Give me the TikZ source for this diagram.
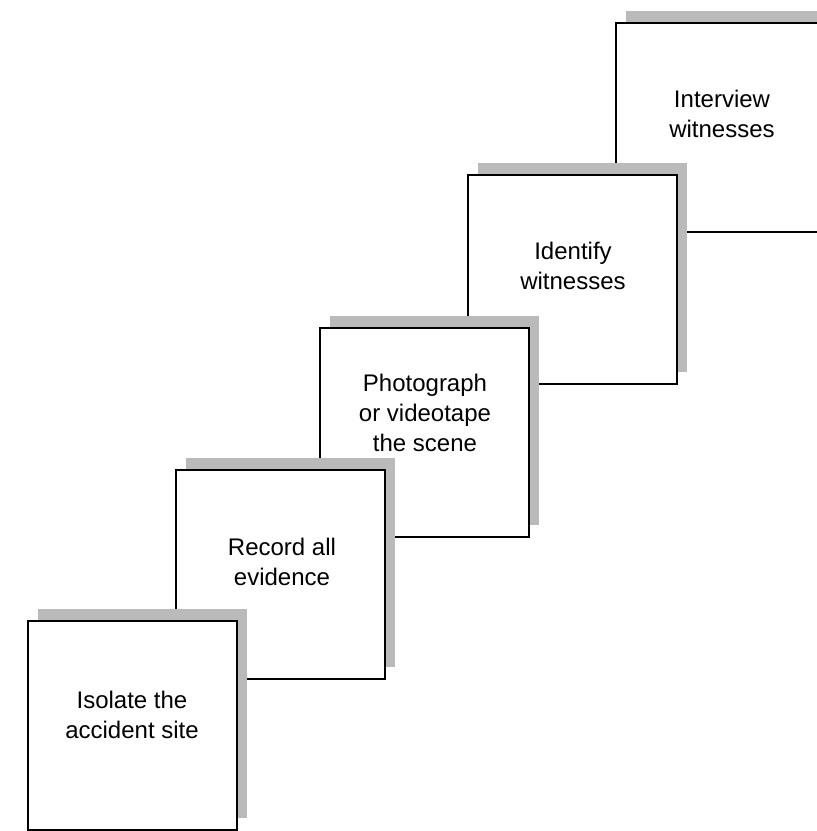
\documentclass[tikz,border=0pt]{standalone}
\usepackage{fontspec}
\setmainfont{Liberation Sans}
\tikzset{
  shadowbox/.style={fill=black!27,minimum size=104.5pt,inner sep=0pt,anchor=north west},
  stepbox/.style={draw,fill=white,line width=1pt,minimum size=104.5pt,inner sep=0pt,anchor=north west},
  steptext/.style={align=center,font=\fontsize{12}{15}\selectfont}
}
\begin{document}
\begin{tikzpicture}[x=0.5pt,y=-0.5pt]
\useasboundingbox (0,0) rectangle (817,831);
\clip (0,0) rectangle (817,831);
% back to front
\foreach \n/\bx/\by/\tx/\ty/\txt in {
  5/615/22/722/114/{Interview\\witnesses},
  4/467/174/573/266/{Identify\\witnesses},
  3/319/327/425/413/{Photograph\\or videotape\\the scene},
  2/175/469/282/562/{Record all\\evidence},
  1/27/620/132/715/{Isolate the\\accident site}}{
  \node[shadowbox] (s\n) at (\bx+11,\by-11) {};
  \node[stepbox] (b\n) at (\bx,\by) {};
  \node[steptext] (t\n) at (\tx,\ty) {\txt};
}
\end{tikzpicture}
\end{document}
